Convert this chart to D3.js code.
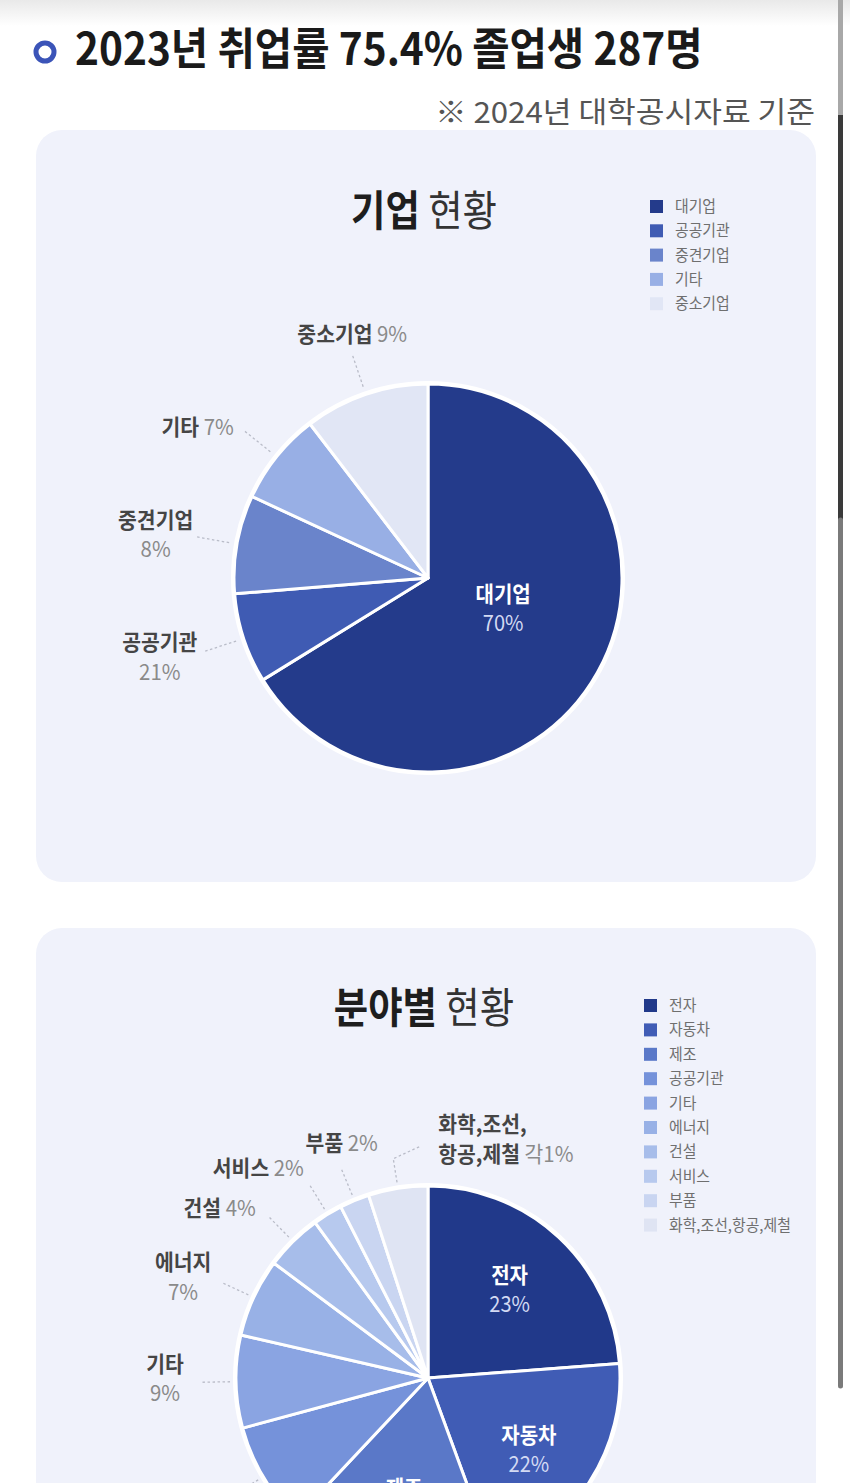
<!DOCTYPE html>
<html>
<head>
<meta charset="utf-8">
<script src="https://cdn.jsdelivr.net/npm/d3@7"></script>
<style>
  html, body { margin: 0; padding: 0; background: #fff; }
  svg { display: block; font-family: "Noto Sans CJK KR", "Noto Sans", sans-serif; }
  text { white-space: pre; }
</style>
</head>
<body>
<script>
const headline = "2023년 취업률 75.4% 졸업생 287명";
const sourceNote = "※ 2024년 대학공시자료 기준";

// chart 1 : 기업 현황
const corpTitle = ["기업", " 현황"];
const corpNames = ["대기업", "공공기관", "중견기업", "기타", "중소기업"];
const corpShares = [66.2, 7.5, 8.2, 7.7, 10.4];   // slice sizes as drawn
const corpLabels = ["70%", "21%", "8%", "7%", "9%"]; // printed labels
const corpColors = ["#243b8b", "#3f5bb3", "#6a84cb", "#98afe5", "#e1e6f5"];

// chart 2 : 분야별 현황
const fieldTitle = ["분야별", " 현황"];
const fieldNames = ["전자", "자동차", "제조", "공공기관", "기타", "에너지", "건설", "서비스", "부품", "화학,조선,항공,제철"];
const fieldShares = [23.8, 20.6, 17.6, 8.8, 7.8, 6.6, 4.8, 2.5, 2.5, 5.0];
const fieldLabels = ["23%", "22%", "18%", "9%", "9%", "7%", "4%", "2%", "2%", "각1%"];
const fieldColors = ["#21398a", "#405cb5", "#5a78c8", "#7592da", "#8aa4e2",
                     "#98b1e6", "#a7bdea", "#b7c9ee", "#c9d5f1", "#dfe4f3"];

const W = 850, H = 1483, SX = 0.87;

const svg = d3.select("body").append("svg")
  .attr("width", W)
  .attr("height", H);

const defs = svg.append("defs");
const grad = defs.append("linearGradient")
  .attr("id", "topShade")
  .attr("x1", 0).attr("y1", 0).attr("x2", 0).attr("y2", 1);
grad.append("stop").attr("offset", "0%").attr("stop-color", "#e9e9e9");
grad.append("stop").attr("offset", "100%").attr("stop-color", "#ffffff");

svg.append("rect").attr("width", W).attr("height", 26).attr("fill", "url(#topShade)");

// text helper: parts = [{t, c, w}]
function addText(g, x, y, parts, o) {
  const t = g.append("text")
    .attr("transform", `translate(${x},${y}) scale(${o.sx || SX},1)`)
    .attr("text-anchor", o.anchor || "middle")
    .style("font-size", o.size + "px");
  parts.forEach(p => {
    t.append("tspan")
      .text(p.t)
      .attr("fill", p.c)
      .style("font-weight", p.w || 400);
  });
  return t;
}

function fitText(t, x, y, width) {
  const len = t.node().getComputedTextLength();
  t.attr("transform", `translate(${x},${y}) scale(${width / len},1)`);
}

// header
svg.append("circle")
  .attr("cx", 45).attr("cy", 52).attr("r", 9)
  .attr("fill", "none")
  .attr("stroke", "#3b54b8")
  .attr("stroke-width", 5);

const head = addText(svg, 75, 65, [{ t: headline, c: "#1a1a1a", w: 700 }], { anchor: "start", size: 44, sx: 1 });
fitText(head, 75, 65, 628);

const note = addText(svg, 815, 123, [{ t: sourceNote, c: "#555" }], { anchor: "end", size: 29, sx: 1 });
fitText(note, 815, 123, 380);

// scrollbar
svg.append("line").attr("x1", 840.5).attr("x2", 840.5).attr("y1", 0).attr("y2", 115)
  .attr("stroke", "#a8a8a8").attr("stroke-width", 5);
svg.append("line").attr("x1", 840.5).attr("x2", 840.5).attr("y1", 115).attr("y2", 520)
  .attr("stroke", "#3a3a3a").attr("stroke-width", 5);
svg.append("line").attr("x1", 840.5).attr("x2", 840.5).attr("y1", 520).attr("y2", 1386)
  .attr("stroke", "#7a7a7a").attr("stroke-width", 5).attr("stroke-linecap", "round");

// cards
svg.append("rect").attr("x", 36).attr("y", 130).attr("width", 780).attr("height", 752)
  .attr("rx", 26).attr("fill", "#f0f2fb");
svg.append("rect").attr("x", 36).attr("y", 928).attr("width", 780).attr("height", 700)
  .attr("rx", 26).attr("fill", "#f0f2fb");

function drawTitle(parts, x, y) {
  addText(svg, x, y, [
    { t: parts[0], c: "#1e1e1e", w: 700 },
    { t: parts[1], c: "#333", w: 400 }
  ], { size: 42, sx: 0.89 });
}

function drawLegend(x, y0, step, names, colors) {
  const g = svg.append("g").attr("transform", `translate(${x},${y0})`);
  const y = d3.scalePoint().domain(d3.range(names.length)).range([0, step * (names.length - 1)]);
  const item = g.selectAll("g").data(names).join("g")
    .attr("transform", (d, i) => `translate(0,${y(i)})`);
  item.append("rect")
    .attr("x", -6).attr("y", -6).attr("width", 13).attr("height", 13)
    .attr("fill", (d, i) => colors[i]);
  item.each(function (d) {
    addText(d3.select(this), 19, 6, [{ t: d, c: "#6f6f6f" }], { anchor: "start", size: 16, sx: 0.93 });
  });
}

function drawPie(cfg) {
  const { cx, cy, r, shares, names, labels, colors } = cfg;
  const arcs = d3.pie().sort(null).value(d => d)(shares);
  const arc = d3.arc().innerRadius(0).outerRadius(r);
  const g = svg.append("g").attr("transform", `translate(${cx},${cy})`);

  g.append("circle").attr("r", r + 3).attr("fill", "#fff");
  g.selectAll("path").data(arcs).join("path")
    .attr("d", arc)
    .attr("fill", (d, i) => colors[i])
    .attr("stroke", "#fff")
    .attr("stroke-width", 3)
    .attr("stroke-linejoin", "round");

  const ring = rr => d3.arc().innerRadius(rr).outerRadius(rr);
  const inSize = { size: 22, sx: 0.91 };

  // labels inside slices
  cfg.inner.forEach(o => {
    const [x, y] = ring(o.rho).centroid(arcs[o.i]);
    addText(g, x, y + o.dy[0], [{ t: names[o.i], c: "#fff", w: 700 }], inSize);
    addText(g, x, y + o.dy[1], [{ t: labels[o.i], c: "#d3daf3" }], inSize);
  });

  // labels outside with dashed leaders
  cfg.outer.forEach(o => {
    const p1 = ring(r + cfg.lead[0]).centroid(arcs[o.i]);
    const p2 = ring(r + (o.lead || cfg.lead[1])).centroid(arcs[o.i]);
    const pts = [p1, p2];
    if (o.bend) pts.push([p2[0] + o.bend[0], p2[1] + o.bend[1]]);
    g.append("path")
      .attr("d", d3.line()(pts))
      .attr("fill", "none")
      .attr("stroke", "#b9bcc8")
      .attr("stroke-width", 1.3)
      .attr("stroke-dasharray", "2.5,2.5");
    const [ex, ey] = pts[pts.length - 1];
    const name = names[o.i], pct = labels[o.i];
    const nameC = "#454545", pctC = "#8a8a8a";
    const opt = { anchor: o.anchor || "middle", size: 21.5, sx: 0.95 };
    if (o.breakAt) {
      addText(g, ex + o.dx, ey + o.dy[0], [{ t: name.slice(0, o.breakAt), c: nameC, w: 700 }], opt);
      addText(g, ex + o.dx, ey + o.dy[1], [
        { t: name.slice(o.breakAt), c: nameC, w: 700 },
        { t: " " + pct, c: pctC }
      ], opt);
    } else if (o.dy.length === 2) {
      addText(g, ex + o.dx, ey + o.dy[0], [{ t: name, c: nameC, w: 700 }], opt);
      addText(g, ex + o.dx, ey + o.dy[1], [{ t: pct, c: pctC }], opt);
    } else {
      addText(g, ex + o.dx, ey + o.dy[0], [
        { t: name, c: nameC, w: 700 },
        { t: " " + pct, c: pctC }
      ], opt);
    }
  });
}

// chart 1
drawTitle(corpTitle, 424, 226);
drawLegend(656, 206, 24.3, corpNames, corpColors);
drawPie({
  cx: 428, cy: 578, r: 194,
  shares: corpShares, names: corpNames, labels: corpLabels, colors: corpColors,
  lead: [8, 42],
  inner: [{ i: 0, rho: 86, dy: [-18, 11] }],
  outer: [
    { i: 4, dx: 0, dy: [-12] },
    { i: 3, anchor: "end", dx: -10, dy: [5] },
    { i: 2, dx: -40, dy: [-9, 20] },
    { i: 1, dx: -44, dy: [-2, 28] }
  ]
});

// chart 2
drawTitle(fieldTitle, 424, 1023);
drawLegend(650, 1005, 24.4, fieldNames, fieldColors);
drawPie({
  cx: 428, cy: 1378, r: 192,
  shares: fieldShares, names: fieldNames, labels: fieldLabels, colors: fieldColors,
  lead: [6, 36],
  inner: [
    { i: 0, rho: 120, dy: [-7, 22] },
    { i: 1, rho: 120, dy: [0, 29] },
    { i: 2, rho: 120, dy: [0, 29] }
  ],
  outer: [
    { i: 9, lead: 30, bend: [26, -12], anchor: "start", dx: 19, dy: [-15, 15], breakAt: 6 },
    { i: 8, dx: 1, dy: [-16] },
    { i: 7, anchor: "end", dx: -5, dy: [-8] },
    { i: 6, anchor: "end", dx: -12, dy: [0] },
    { i: 5, dx: -38, dy: [-12, 18] },
    { i: 4, dx: -35, dy: [-10, 19] },
    { i: 3, dx: -40, dy: [30, 60] }
  ]
});
</script>
</body>
</html>
